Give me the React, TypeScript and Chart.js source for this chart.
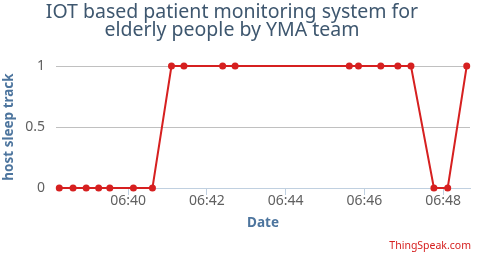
import React, { useEffect, useRef } from "react";
import { Chart, registerables } from "chart.js";

Chart.register(...registerables);

// ---- data ----
const times = [
  "06:38:15", "06:38:36", "06:38:56", "06:39:15", "06:39:32", "06:40:08", "06:40:37",
  "06:41:06", "06:41:25", "06:42:24", "06:42:43", "06:45:37", "06:45:51", "06:46:25",
  "06:46:51", "06:47:11", "06:47:46", "06:48:07", "06:48:36",
];
const sleepTrack = [0, 0, 0, 0, 0, 0, 0, 1, 1, 1, 1, 1, 1, 1, 1, 1, 0, 0, 1];
const xTickLabels = ["06:40", "06:42", "06:44", "06:46", "06:48"];
const xRange = ["06:38:10", "06:48:41"];
const yTicks = [0, 0.5, 1];
const titleLines = ["IOT based patient monitoring system for", "elderly people by YMA team"];
const yAxisTitle = "host sleep track";
const xAxisTitle = "Date";
const creditText = "ThingSpeak.com";

const toMinutes = (s: string) => {
  const [h, m, sec] = s.split(":").map(Number);
  return h * 60 + m + (sec || 0) / 60;
};
const fmt = (v: number) => {
  const h = Math.floor(v / 60);
  const m = Math.round(v - h * 60);
  return String(h).padStart(2, "0") + ":" + String(m).padStart(2, "0");
};

const FONT = '"Noto Sans", sans-serif';

const textPlugin = {
  id: "texts",
  afterDraw(chart: any) {
    const ctx = chart.ctx as CanvasRenderingContext2D;
    ctx.save();
    ctx.font = `19.5px ${FONT}`;
    ctx.fillStyle = "#3E576F";
    ctx.textAlign = "center";
    ctx.textBaseline = "alphabetic";
    titleLines.forEach((l, i) => ctx.fillText(l, 232, 18 + i * 18));
    ctx.font = `10.5px ${FONT}`;
    ctx.fillStyle = "#d62020";
    ctx.textAlign = "right";
    ctx.fillText(creditText, 471, 249);
    ctx.restore();
  },
};

export default function App() {
  const ref = useRef<HTMLCanvasElement | null>(null);
  useEffect(() => {
    document.body.style.margin = "0";
    if (!ref.current) return;
    const chart = new Chart(ref.current, {
      type: "line",
      data: {
        datasets: [
          {
            data: times.map((t, i) => ({ x: toMinutes(t), y: sleepTrack[i] })),
            borderColor: "#d62020",
            backgroundColor: "#d62020",
            borderWidth: 2,
            pointRadius: 3.5,
            pointBorderWidth: 0,
            pointBackgroundColor: "#d62020",
            tension: 0,
            clip: false as any,
          },
        ],
      },
      options: {
        animation: false,
        responsive: false,
        events: [],
        layout: { padding: { top: 66, right: 10, left: 0, bottom: 0 } },
        plugins: { legend: { display: false }, tooltip: { enabled: false }, title: { display: false } },
        scales: {
          x: {
            type: "linear",
            min: toMinutes(xRange[0]),
            max: toMinutes(xRange[1]),
            afterBuildTicks: (s: any) => {
              s.ticks = xTickLabels.map((t) => ({ value: toMinutes(t) }));
            },
            afterFit: (s: any) => {
              s.height = 65;
            },
            ticks: {
              callback: (v: any) => fmt(Number(v)),
              color: "#606060",
              font: { family: FONT, size: 14 },
              padding: -2,
              maxRotation: 0,
              autoSkip: false,
            },
            grid: { drawOnChartArea: false, drawTicks: true, tickLength: 7, color: "#C0D0E0" },
            border: { display: true, color: "#C0D0E0", width: 1 },
            title: {
              display: true,
              text: xAxisTitle,
              color: "#4d759e",
              font: { family: FONT, size: 13.5, weight: "bold" },
              padding: { top: 0, bottom: 21.4 },
            },
          },
          y: {
            min: 0,
            max: 1,
            afterBuildTicks: (s: any) => {
              s.ticks = yTicks.map((v) => ({ value: v }));
            },
            afterFit: (s: any) => {
              s.width = 56;
            },
            ticks: {
              callback: (v: any) => String(v),
              color: "#606060",
              font: { family: FONT, size: 14 },
              padding: 11,
            },
            grid: {
              drawTicks: false,
              color: (c: any) => (c.tick && c.tick.value === 0 ? "rgba(0,0,0,0)" : "#C0C0C0"),
            },
            border: { display: false },
            title: {
              display: true,
              text: yAxisTitle,
              color: "#4d759e",
              font: { family: FONT, size: 13.5, weight: "bold" },
              padding: { top: 1, bottom: 0 },
            },
          },
        },
      },
      plugins: [textPlugin],
    });
    return () => chart.destroy();
  }, []);
  return (
    <div style={{ width: 480, height: 253 }}>
      <canvas ref={ref} width={480} height={253} style={{ display: "block" }} />
    </div>
  );
}
